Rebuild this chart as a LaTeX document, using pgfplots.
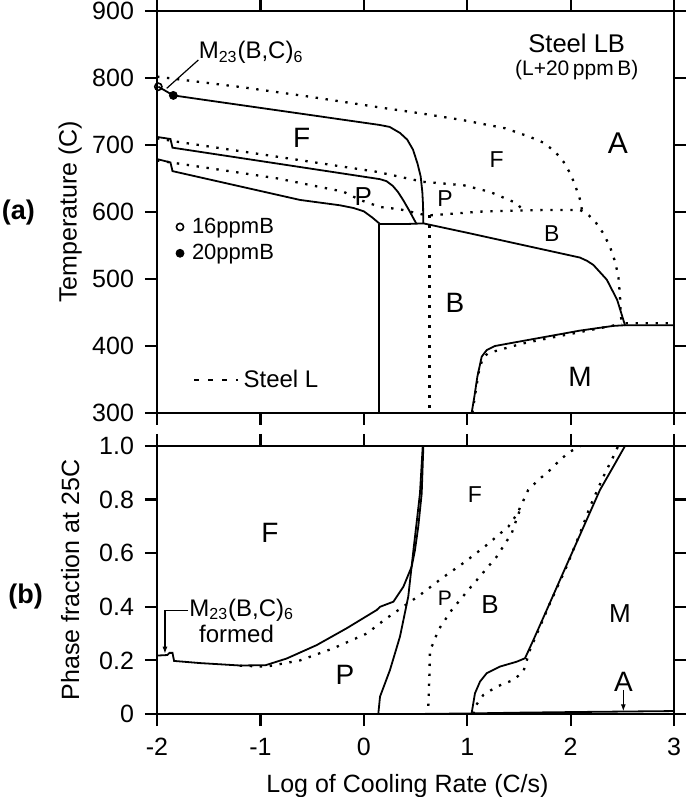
\documentclass[border=0pt]{standalone}
\usepackage{fontspec}
\setmainfont{Liberation Sans}
\usepackage{pgfplots}
\pgfplotsset{compat=1.18}
\usetikzlibrary{arrows.meta}
\newcommand\fs[1]{\fontsize{#1}{#1}\selectfont}

\pgfplotsset{
  panel/.style={
    scale only axis, width=258.5pt, anchor=south west,
    xmin=-2, xmax=3, xtick={-2,-1,0,1,2,3},
    tick align=outside, tick pos=both, major tick length=6pt,
    axis line style={line width=1.1pt},
    every tick/.style={black, line width=1.1pt},
    tick label style={font=\fs{12.5}},
    xticklabel style={yshift=-2.5pt},
    yticklabel style={xshift=-2pt},
    every axis y label/.style={at={(axis description cs:-0.168,0.5)}, rotate=90, anchor=center, font=\fs{12.5}},
    clip=false,
  },
  LB/.style={black, line width=0.9pt},
  L/.style={black, line width=1.15pt, dash pattern=on 1.2pt off 3.8pt},
  markleg/.style={legend image code/.code={\draw[##1] plot coordinates {(0pt,0pt)}; \path[draw=none, fill=none] (0pt,0pt) rectangle (4pt,0pt);}},
  dashleg/.style={legend image code/.code={\draw[black, line width=1.1pt, dash pattern=on 2.5pt off 4.4pt] (0pt,0pt) -- (22pt,0pt);}},
}

\begin{document}
\begin{tikzpicture}
\useasboundingbox (0,0) rectangle (342.5pt,398.5pt);

% (a) transformation temperatures
\begin{axis}[panel, at={(78.5pt,192pt)}, height=201pt,
  ymin=300, ymax=900, ytick={300,400,500,600,700,800,900},
  yticklabels={300,400,500,600,700,800,900},
  xticklabels={}, ylabel={Temperature (C)},
  legend style={at={(axis cs:-1.82,598)}, anchor=north west, draw=none, fill=none,
    font=\fs{11}, inner sep=0pt, row sep=0pt},
  legend cell align=left]

\addplot[only marks, mark=o, mark size=1.8pt, mark options={fill=white, line width=0.8pt}, markleg]
  coordinates {(-1.987,787)};
\addlegendentry{16ppmB}
\addplot[only marks, mark=*, mark size=2pt, mark options={fill=black}, markleg]
  coordinates {(-1.842,774)};
\addlegendentry{20ppmB}

% Steel LB (solid)
\addplot[LB, forget plot] coordinates {(-1.987,787) (-1.842,774)};
\addplot[LB, forget plot] coordinates {(-1.842,774) (0.15,730) (0.25,727) (0.35,718) (0.42,708) (0.476,693) (0.52,672) (0.55,653) (0.566,630) (0.573,610) (0.576,583)};
\addplot[LB, forget plot] coordinates {(-2,712) (-1.87,709) (-1.85,696) (0.157,649) (0.22,646) (0.28,639) (0.33,630) (0.38,618) (0.44,602) (0.51,582)};
\addplot[LB, forget plot] coordinates {(-2,679) (-1.87,674) (-1.85,661) (-0.617,618) (-0.23,610) (-0.1,606) (0.0,601) (0.08,592) (0.157,582) (0.40,582) (0.576,583) (1.0,569) (1.5,552) (2.09,532) (2.16,527) (2.22,521) (2.35,499) (2.45,469) (2.526,431) (3,431)};
\addplot[LB, forget plot] coordinates {(0.15,582) (0.15,300)};
\addplot[LB, forget plot] coordinates {(1.043,300) (1.069,324) (1.098,354) (1.14,384) (1.189,394) (1.269,400) (1.446,405) (1.769,414) (2.091,423) (2.413,430) (2.526,431)};

% Steel L (dotted)
\addplot[L, forget plot] coordinates {(-2,802) (-1.165,786) (-0.52,772) (0.157,756) (0.56,747) (0.963,737) (1.366,725) (1.608,712) (1.737,703.5) (1.85,690) (1.931,675) (1.995,658) (2.044,640) (2.092,618) (2.11,603)};
\addplot[L, forget plot] coordinates {(-2,710) (-1.81,705) (-0.842,682.6) (0.125,660) (0.576,645) (0.963,640) (1.221,630) (1.48,613) (1.53,604)};
\addplot[L, forget plot] coordinates {(-2,677) (-1.81,672.7) (-0.842,650.3) (-0.197,630.3) (-0.037,618) (0.157,607.5) (0.35,604) (0.576,596) (0.634,595) (1.124,600.5) (1.447,602) (1.769,603) (2.09,603) (2.155,598) (2.236,586) (2.317,568) (2.381,548) (2.43,526) (2.462,503.5) (2.478,474) (2.484,449) (2.494,434) (3,434)};
\addplot[L, forget plot] coordinates {(0.634,595) (0.634,300)};
\addplot[L, forget plot] coordinates {(1.05,300) (1.08,330) (1.11,360) (1.15,382) (1.2,389) (1.253,391.5) (1.4,398) (1.543,404) (1.8,412) (2.1,421) (2.494,433)};

% annotation
\addplot[black, line width=0.6pt, forget plot] coordinates {(-1.906,784.6) (-1.60,826.9)};
\node[anchor=west, inner sep=0pt, font=\fs{12}] at (axis cs:-1.60,838) {M\textsubscript{23}(B,C)\textsubscript{6}};

\node[font=\fs{12.8}] at (axis cs:2.059,852) {Steel LB};
\node[font=\fs{10.5}] at (axis cs:2.059,812) {(L+20\,ppm\,B)};

\node[font=\fs{14}] at (axis cs:-0.601,710) {F};
\node[font=\fs{13}] at (axis cs:-0.005,623) {P};
\node[font=\fs{11.5}] at (axis cs:1.285,678) {F};
\node[font=\fs{11.5}] at (axis cs:0.785,620) {P};
\node[font=\fs{15}] at (axis cs:2.458,703) {A};
\node[font=\fs{11.5}] at (axis cs:1.817,568) {B};
\node[font=\fs{14}] at (axis cs:0.882,464) {B};
\node[font=\fs{14}] at (axis cs:2.091,354) {M};

\node[font=\bfseries\fs{13.5}] at (axis description cs:-0.268,0.499) {(a)};
\end{axis}

% (b) phase fractions
\begin{axis}[panel, at={(78.5pt,41.5pt)}, height=134pt,
  ymin=0, ymax=1, ytick={0,0.2,0.4,0.6,0.8,1}, yticklabels={0,0.2,0.4,0.6,0.8,1.0},
  xticklabels={-2,-1,0,1,2,3},
  xlabel={Log of Cooling Rate (C/s)}, ylabel={Phase fraction at 25C},
  xlabel style={at={(axis description cs:0.4845,-0.27)}, anchor=center, font=\fs{12.5}},
  legend style={at={(axis description cs:0.0696,1.246)}, anchor=west, draw=none, fill=none,
    font=\fs{12}, inner sep=0pt},
  dashleg]

\addlegendimage{L}
\addlegendentry{Steel L}

% Steel LB (solid)
\addplot[LB] coordinates {(-2,0.218) (-1.90,0.220) (-1.88,0.228) (-1.85,0.228) (-1.835,0.198) (-1.584,0.190) (-1.2,0.181) (-0.95,0.182) (-0.746,0.207) (-0.456,0.257) (-0.165,0.320) (0.125,0.388) (0.157,0.40) (0.286,0.419) (0.383,0.475) (0.463,0.55) (0.495,0.612) (0.527,0.70) (0.56,0.823) (0.576,1.0)};
\addplot[LB] coordinates {(0.14,0) (0.157,0.065) (0.253,0.164) (0.35,0.289) (0.43,0.438) (0.48,0.612) (0.51,0.711) (0.543,0.823) (0.57,1.0)};
\addplot[LB] coordinates {(1.043,0.003) (1.075,0.077) (1.124,0.121) (1.188,0.152) (1.317,0.177) (1.478,0.195) (1.559,0.208) (1.64,0.276) (1.769,0.388) (1.897,0.50) (2.026,0.612) (2.155,0.724) (2.284,0.836) (2.413,0.923) (2.526,1.0)};
\addplot[LB] coordinates {(0.5,0) (1.0,0.002) (1.5,0.005) (2.2,0.008) (3,0.011)};

% Steel L (dotted)
\addplot[L] coordinates {(-1.2,0.180) (-0.94,0.177) (-0.617,0.20) (-0.295,0.245) (0.028,0.30) (0.205,0.353) (0.543,0.444) (0.753,0.506) (0.98,0.568) (1.19,0.631) (1.40,0.70) (1.48,0.745) (1.53,0.785) (1.59,0.836) (1.688,0.873) (1.80,0.91) (1.897,0.948) (1.994,0.979) (2.09,0.997)};
\addplot[L] coordinates {(0.624,0.03) (0.634,0.139) (0.64,0.239) (0.672,0.264) (0.72,0.313) (0.85,0.388) (1.011,0.463) (1.107,0.506) (1.285,0.587) (1.43,0.674) (1.485,0.736) (1.53,0.78)};
\addplot[L] coordinates {(1.06,0.0) (1.075,0.027) (1.156,0.071) (1.285,0.102) (1.446,0.127) (1.543,0.158) (1.607,0.239) (1.704,0.326) (1.80,0.413) (1.95,0.54) (2.091,0.674) (2.188,0.774) (2.316,0.885) (2.429,0.973) (2.46,1.0)};

% annotations
\addplot[black, line width=0.6pt, -{Latex[length=3.5pt, width=2.5pt]}] coordinates {(-1.70,0.385) (-1.923,0.385) (-1.923,0.225)};
\node[anchor=west, inner sep=0.5pt, font=\fs{12}] at (axis cs:-1.70,0.388) {M\textsubscript{23}(B,C)\textsubscript{6}};
\node[font=\fs{12}, inner sep=0.5pt] at (axis cs:-1.231,0.298) {formed};
\addplot[black, line width=0.6pt, -{Latex[length=3.5pt, width=2.5pt]}] coordinates {(2.51,0.09) (2.51,0.01)};

\node[font=\fs{14}] at (axis cs:-0.907,0.674) {F};
\node[font=\fs{14}] at (axis cs:-0.182,0.146) {P};
\node[font=\fs{11.5}] at (axis cs:1.075,0.817) {F};
\node[font=\fs{10.5}] at (axis cs:0.785,0.432) {P};
\node[font=\fs{13}] at (axis cs:1.22,0.407) {B};
\node[font=\fs{13}] at (axis cs:2.478,0.376) {M};
\node[font=\fs{14}] at (axis cs:2.51,0.12) {A};

\node[font=\bfseries\fs{13.5}] at (axis description cs:-0.254,0.437) {(b)};
\end{axis}
\end{tikzpicture}
\end{document}
